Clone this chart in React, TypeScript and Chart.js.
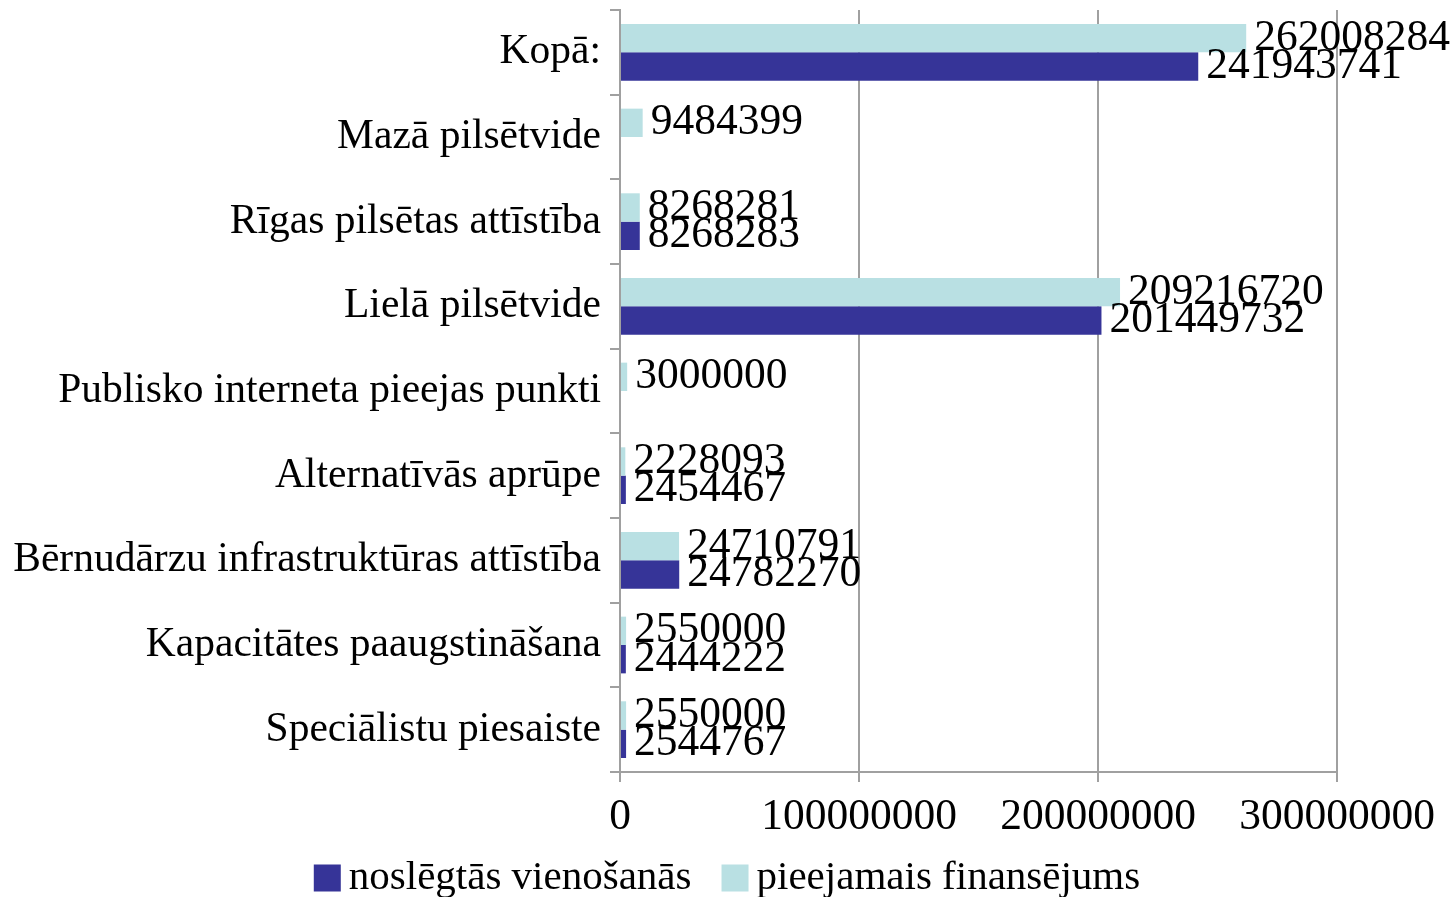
import React, { useEffect, useRef } from "react";
import { Chart, registerables } from "chart.js";

Chart.register(...registerables);

const categories = [
  "Kopā:",
  "Mazā pilsētvide",
  "Rīgas pilsētas attīstība",
  "Lielā pilsētvide",
  "Publisko interneta pieejas punkti",
  "Alternatīvās aprūpe",
  "Bērnudārzu infrastruktūras attīstība",
  "Kapacitātes paaugstināšana",
  "Speciālistu piesaiste",
];

const seriesNames = ["pieejamais finansējums", "noslēgtās vienošanās"];

const pieejamais = [262008284, 9484399, 8268281, 209216720, 3000000, 2228093, 24710791, 2550000, 2550000];
const noslegtas = [241943741, null, 8268283, 201449732, null, 2454467, 24782270, 2444222, 2544767];

const xTicks = [0, 100000000, 200000000, 300000000];

const LIGHT = "#B9E0E3";
const DARK = "#363498";
const GRID = "#a0a0a0";
const FONT = "Liberation Serif";

const W = 1454;
const H = 897;

const dataLabelPlugin = {
  id: "dataLabels",
  afterDatasetsDraw(chart: any) {
    const ctx = chart.ctx;
    ctx.save();
    ctx.font = `43.5px "${FONT}"`;
    ctx.fillStyle = "#000";
    ctx.textAlign = "left";
    ctx.textBaseline = "middle";
    chart.data.datasets.forEach((ds: any, di: number) => {
      const meta = chart.getDatasetMeta(di);
      meta.data.forEach((el: any, i: number) => {
        const v = ds.data[i];
        if (v === null || v === undefined) return;
        ctx.fillText(String(v), el.x + 8, el.y);
      });
    });
    ctx.restore();
  },
};

const legendPlugin = {
  id: "customLegend",
  afterDraw(chart: any) {
    const ctx = chart.ctx;
    ctx.save();
    ctx.font = `41px "${FONT}"`;
    ctx.textBaseline = "middle";
    ctx.textAlign = "left";
    const items = [
      { text: seriesNames[1], color: DARK },
      { text: seriesNames[0], color: LIGHT },
    ];
    const box = 27;
    const gap = 8;
    const itemGap = 30;
    const widths = items.map((it) => box + gap + ctx.measureText(it.text).width);
    const total = widths.reduce((a, b) => a + b, 0) + itemGap * (items.length - 1);
    let x = (W - total) / 2;
    const cy = 878;
    items.forEach((it, i) => {
      ctx.fillStyle = it.color;
      ctx.fillRect(x, cy - box / 2, box, box);
      ctx.fillStyle = "#000";
      ctx.fillText(it.text, x + box + gap, cy);
      x += widths[i] + itemGap;
    });
    ctx.restore();
  },
};

export default function App() {
  const ref = useRef<HTMLCanvasElement | null>(null);

  useEffect(() => {
    document.body.style.margin = "0";
    const canvas = ref.current;
    if (!canvas) return;
    const chart = new Chart(canvas, {
      type: "bar",
      data: {
        labels: categories,
        datasets: [
          {
            label: seriesNames[0],
            data: pieejamais,
            backgroundColor: LIGHT,
            borderWidth: 0,
            categoryPercentage: 0.67,
            barPercentage: 1,
          },
          {
            label: seriesNames[1],
            data: noslegtas as any,
            backgroundColor: DARK,
            borderWidth: 0,
            categoryPercentage: 0.67,
            barPercentage: 1,
          },
        ],
      },
      options: {
        indexAxis: "y",
        responsive: false,
        animation: false,
        layout: { padding: { top: 10, right: 117, left: 0, bottom: 0 } },
        plugins: {
          legend: { display: false },
          tooltip: { enabled: false },
        },
        scales: {
          x: {
            min: 0,
            max: 300000000,
            afterBuildTicks: (scale: any) => {
              scale.ticks = xTicks.map((v) => ({ value: v }));
            },
            afterFit: (scale: any) => {
              scale.height = 125;
            },
            ticks: {
              font: { family: FONT, size: 43.5 },
              color: "#000",
              padding: 9,
              maxRotation: 0,
              callback: (v: any) => String(v),
            },
            grid: {
              color: GRID,
              lineWidth: 2,
              tickLength: 10,
            },
            border: { color: GRID, width: 2 },
          },
          y: {
            afterFit: (scale: any) => {
              scale.width = 620;
              scale.paddingTop = 0;
              scale.paddingBottom = 0;
            },
            ticks: {
              font: { family: FONT, size: 41.5 },
              color: "#000",
              padding: 9,
            },
            grid: {
              drawOnChartArea: false,
              drawTicks: true,
              tickLength: 10,
              color: GRID,
              lineWidth: 2,
            },
            border: { color: GRID, width: 2 },
          },
        },
      },
      plugins: [dataLabelPlugin, legendPlugin],
    });
    return () => chart.destroy();
  }, []);

  return (
    <div style={{ position: "absolute", left: 0, top: 0, width: W, height: H, background: "#fff" }}>
      <canvas ref={ref} width={W} height={H} style={{ display: "block" }} />
    </div>
  );
}
